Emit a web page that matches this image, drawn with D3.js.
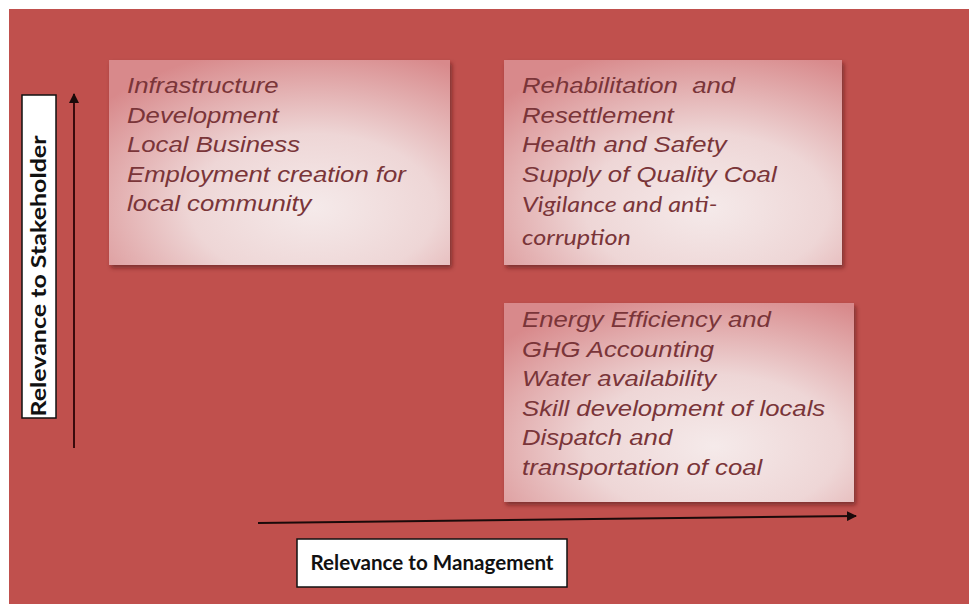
<!DOCTYPE html>
<html>
<head>
<meta charset="utf-8">
<script src="https://cdn.jsdelivr.net/npm/d3@7"></script>
<style>
  html, body { margin: 0; padding: 0; background: #fff; }
  svg { display: block; }
</style>
</head>
<body>
<div id="chart"></div>
<script>
// quadrant contents (lines of text as shown in each box)
const highStakeLowMgmt = ["Infrastructure", "Development", "Local Business", "Employment creation for", "local community"];
const highStakeHighMgmt = ["Rehabilitation  and", "Resettlement", "Health and Safety", "Supply of Quality Coal"];
const highStakeHighMgmtNote = ["Vigilance and anti-", "corruption"];
const lowStakeHighMgmt = ["Energy Efficiency and", "GHG Accounting", "Water availability", "Skill development of locals", "Dispatch and", "transportation of coal"];

const xTitle = "Relevance to Management";
const yTitle = "Relevance to Stakeholder";

const W = 969, H = 604;

const svg = d3.select("#chart").append("svg")
  .attr("width", W).attr("height", H);

const defs = svg.append("defs");

// pink box fill
const grad = defs.append("radialGradient")
  .attr("id", "boxFill")
  .attr("cx", "0.6").attr("cy", "0.72").attr("r", "0.8")
  .attr("fx", "0.6").attr("fy", "0.72");
grad.append("stop").attr("offset", "0%").attr("stop-color", "#f5eaea");
grad.append("stop").attr("offset", "45%").attr("stop-color", "#eed6d6");
grad.append("stop").attr("offset", "100%").attr("stop-color", "#d8898b");

const shadow = defs.append("filter").attr("id", "shadow")
  .attr("x", "-10%").attr("y", "-10%").attr("width", "125%").attr("height", "125%");
shadow.append("feDropShadow")
  .attr("dx", 2).attr("dy", 3).attr("stdDeviation", 2)
  .attr("flood-color", "#4a1214").attr("flood-opacity", 0.55);

defs.append("marker")
  .attr("id", "arrow")
  .attr("viewBox", "0 0 10 10")
  .attr("refX", 9).attr("refY", 5)
  .attr("markerWidth", 5).attr("markerHeight", 5)
  .attr("orient", "auto")
  .append("path").attr("d", "M0,0L10,5L0,10z").attr("fill", "#1a0a0a");

// red canvas
svg.append("rect")
  .attr("x", 9).attr("y", 9)
  .attr("width", W - 9).attr("height", H - 9)
  .attr("fill", "#c0504d");

// scales: management (x) and stakeholder (y), 0..1
const x = d3.scaleLinear().domain([0, 1]).range([258, 856]);
const y = d3.scaleLinear().domain([0, 1]).range([448, 94]);

// boxes placed by quadrant
const col = d3.scaleOrdinal().domain(["low", "high"]).range([109, 504]);
const row = d3.scaleOrdinal().domain(["high", "low"]).range([60, 303]);

const boxes = [
  { m: "low", s: "high", w: 341, h: 205, lines: highStakeLowMgmt, note: [] },
  { m: "high", s: "high", w: 338, h: 205, lines: highStakeHighMgmt, note: highStakeHighMgmtNote },
  { m: "high", s: "low", w: 350, h: 199, lines: lowStakeHighMgmt, note: [] }
];

const g = svg.selectAll("g.box").data(boxes).join("g")
  .attr("class", "box")
  .attr("transform", d => "translate(" + col(d.m) + "," + row(d.s) + ")");

g.append("rect")
  .attr("width", d => d.w).attr("height", d => d.h)
  .attr("fill", "url(#boxFill)")
  .attr("filter", "url(#shadow)");

g.each(function (d) {
  const gg = d3.select(this);
  const tx = 18;
  const t0 = d.s === "high" ? 33 : 24;
  gg.selectAll("text.main").data(d.lines).join("text")
    .attr("class", "main")
    .attr("transform", (t, i) => "translate(" + tx + "," + (t0 + i * 29.5) + ") scale(1.17,1)")
    .attr("font-family", "Liberation Sans, Arial, sans-serif")
    .attr("font-style", "italic")
    .attr("font-size", 22)
    .attr("fill", "#7a3539")
    .attr("xml:space", "preserve")
    .text(t => t);
  gg.selectAll("text.note").data(d.note).join("text")
    .attr("class", "note")
    .attr("transform", (t, i) => "translate(" + tx + "," + (t0 + d.lines.length * 29.5 + 1 + i * 33) + ") scale(1.2,1)")
    .attr("font-family", "Lato, Open Sans, sans-serif")
    .attr("font-style", "italic")
    .attr("font-size", 21)
    .attr("fill", "#7a3539")
    .text(t => t);
});

// axis arrows
svg.append("line")
  .attr("x1", x(0)).attr("y1", 523)
  .attr("x2", x(1)).attr("y2", 516)
  .attr("stroke", "#1a0a0a").attr("stroke-width", 2)
  .attr("marker-end", "url(#arrow)");

svg.append("line")
  .attr("x1", 74).attr("y1", y(0))
  .attr("x2", 74).attr("y2", y(1))
  .attr("stroke", "#3a0a0c").attr("stroke-width", 2)
  .attr("marker-end", "url(#arrow)");

// axis titles
svg.append("rect")
  .attr("x", 297).attr("y", 539).attr("width", 270).attr("height", 48)
  .attr("fill", "#fff").attr("stroke", "#111").attr("stroke-width", 1.5);
svg.append("text")
  .attr("transform", "translate(432,570) scale(1.03,1)")
  .attr("text-anchor", "middle")
  .attr("font-family", "Lato, Open Sans, sans-serif")
  .attr("font-weight", "bold")
  .attr("font-size", 20)
  .attr("fill", "#111")
  .text(xTitle);

svg.append("rect")
  .attr("x", 22).attr("y", 95).attr("width", 34).attr("height", 323)
  .attr("fill", "#fff").attr("stroke", "#111").attr("stroke-width", 1.5);
svg.append("text")
  .attr("transform", "translate(46,276) rotate(-90) scale(1.25,1)")
  .attr("text-anchor", "middle")
  .attr("font-family", "Lato, Open Sans, sans-serif")
  .attr("font-weight", "bold")
  .attr("font-size", 20)
  .attr("fill", "#111")
  .text(yTitle);
</script>
</body>
</html>
